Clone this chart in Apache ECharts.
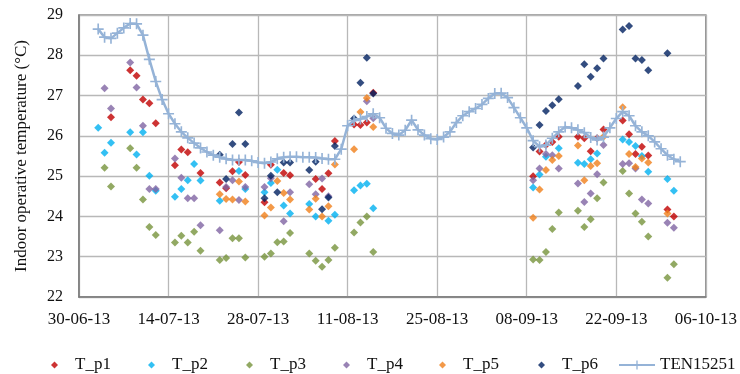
<!DOCTYPE html>
<html><head><meta charset="utf-8">
<script src="https://cdn.jsdelivr.net/npm/echarts@6/dist/echarts.min.js"></script>
<style>html,body{margin:0;padding:0;background:#fff}#c{width:740px;height:374px}</style>
</head><body><div id="c"></div>
<script>
// ---- data (year 2013, dates as MM-DD) ----
const measureDates = ['07-03','07-04','07-05','07-08','07-09','07-10','07-11','07-12','07-15','07-16','07-17','07-18','07-19',
  '07-22','07-23','07-24','07-25','07-26','07-29','07-30','07-31','08-01','08-02','08-05','08-06','08-07','08-08','08-09',
  '08-12','08-13','08-14','08-15','09-09','09-10','09-11','09-12','09-13','09-16','09-17','09-18','09-19','09-20',
  '09-23','09-24','09-25','09-26','09-27','09-30','10-01'];
const T_p1 = [null,null,26.46,27.63,27.49,26.90,26.81,26.31,25.27,25.66,25.59,null,25.08,
  24.84,24.70,25.12,25.35,25.03,24.35,25.28,null,25.08,25.02,null,24.93,24.68,25.07,25.87,
  26.28,26.27,26.33,27.07,25.00,25.61,25.77,25.85,25.98,25.98,25.94,25.62,25.94,26.16,
  26.38,26.04,25.55,25.73,25.51,24.17,24.00];
const T_p2 = [26.20,25.58,25.83,26.09,25.54,26.09,25.01,24.64,24.49,24.68,24.90,25.30,24.89,
  24.39,null,null,25.13,24.68,24.60,24.83,25.16,24.27,24.07,24.31,24.00,null,23.89,24.04,
  24.65,24.77,24.81,24.20,24.72,25.04,25.48,null,25.69,25.33,25.30,25.42,25.56,null,
  25.91,25.85,25.75,25.50,25.11,24.93,24.64];
const T_p3 = [null,25.21,24.74,25.69,25.21,24.42,23.74,23.54,23.35,23.52,23.35,23.62,23.15,
  22.92,22.97,23.46,23.46,22.98,23.00,23.08,23.36,23.38,23.59,23.08,22.90,22.75,22.92,23.22,
  23.60,23.85,24.00,23.12,22.93,22.92,23.12,23.69,24.10,24.14,23.74,23.93,24.45,24.84,
  25.13,24.57,24.07,23.87,23.50,22.48,22.81];
const T_p4 = [null,27.18,26.68,27.82,27.20,26.25,24.68,24.68,25.44,24.96,24.45,24.45,23.78,
  23.66,24.73,24.90,24.41,24.73,24.73,24.95,null,23.88,24.60,24.80,24.55,24.94,24.50,null,
  null,null,26.86,26.44,24.90,25.19,25.55,25.52,25.19,24.82,24.36,24.57,25.05,25.77,
  25.30,25.32,25.19,24.42,24.32,23.84,23.72];
const T_p5 = [null,null,null,null,null,null,null,null,null,null,null,null,null,
  24.55,24.43,24.42,24.87,24.37,24.02,24.22,24.88,24.58,24.42,24.17,24.44,24.00,24.25,25.29,
  25.67,26.59,26.94,26.22,23.97,24.67,25.15,25.40,25.50,25.76,24.90,25.25,25.32,25.98,
  26.71,25.55,25.23,25.44,25.34,24.07,null];
const T_p6 = [null,null,null,null,null,null,null,null,null,null,null,null,null,
  25.53,24.93,25.80,26.58,25.80,24.45,25.01,24.60,25.34,25.34,25.15,25.36,24.18,24.47,25.75,
  26.43,27.32,27.94,27.05,25.71,26.27,26.62,26.76,26.91,27.24,27.78,27.47,27.68,27.92,
  28.64,28.73,27.92,27.88,27.63,28.05,null];
const lineDates = ['07-03','07-04','07-05','07-06','07-07','07-08','07-09','07-10','07-11','07-12','07-13','07-14','07-15','07-16','07-17','07-18','07-19','07-20','07-21','07-22','07-23','07-24','07-25','07-26','07-27','07-28','07-29','07-30','07-31',
  '08-01','08-02','08-03','08-04','08-05','08-06','08-07','08-08','08-09','08-10','08-11','08-12','08-13','08-14','08-15','08-16','08-17','08-18','08-19','08-20','08-21','08-22','08-23','08-24','08-25','08-26','08-27','08-28','08-29','08-30','08-31',
  '09-01','09-02','09-03','09-04','09-05','09-06','09-07','09-08','09-09','09-10','09-11','09-12','09-13','09-14','09-15','09-16','09-17','09-18','09-19','09-20','09-21','09-22','09-23','09-24','09-25','09-26','09-27','09-28','09-29','09-30',
  '10-01','10-02'];
const TEN15251 = [28.65,28.45,28.42,28.55,28.68,28.79,28.78,28.50,27.90,27.35,26.90,26.55,26.30,26.10,25.95,25.82,25.70,25.60,25.52,25.47,25.43,25.40,25.40,25.40,25.38,25.34,25.32,25.35,25.43,
  25.47,25.48,25.48,25.47,25.47,25.46,25.44,25.42,25.42,25.67,26.25,26.38,26.42,26.48,26.55,26.45,26.19,26.06,26.02,26.14,26.39,26.15,26.02,25.93,25.91,25.97,26.10,26.33,26.50,26.60,26.68,
  26.78,26.93,27.05,27.06,26.95,26.70,26.45,26.20,25.88,25.73,25.77,25.94,26.10,26.22,26.20,26.15,26.08,25.96,25.90,25.97,26.20,26.43,26.60,26.50,26.25,26.10,26.00,25.85,25.68,25.52,
  25.42,25.36];
const seriesNames = ['T_p1','T_p2','T_p3','T_p4','T_p5','T_p6','TEN15251'];
const xStart = '2013-06-30', xEnd = '2013-10-06', xStepDays = 14;
const yMin = 22, yMax = 29, yStep = 1;

// ---- helpers ----
const DAY = 86400000;
const t0 = Date.parse(xStart + 'T00:00:00Z');
const dayOf = mmdd => (Date.parse('2013-' + mmdd + 'T00:00:00Z') - t0) / DAY;
const fmt = v => { const d = new Date(t0 + v * DAY); const p = n => String(n).padStart(2, '0');
  return p(d.getUTCDate()) + '-' + p(d.getUTCMonth() + 1) + '-' + String(d.getUTCFullYear()).slice(2); };
const pairs = (dates, vals) => dates.map((m, i) => [dayOf(m), vals[i]]).filter(p => p[1] != null);

const colors = ['#C00000','#00B0F0','#77933C','#8064A2','#F07F1A','#002060','#95B3D7'];
const FONT = '"Liberation Serif","Times New Roman",serif';
const plus = 'path://M4.25,0H5.75V4.25H10V5.75H5.75V10H4.25V5.75H0V4.25H4.25Z';
const scatterData = [T_p1, T_p2, T_p3, T_p4, T_p5, T_p6];

const series = scatterData.map((vals, i) => ({
  name: seriesNames[i], type: 'scatter', symbol: 'diamond', symbolSize: 8,
  itemStyle: { color: colors[i] }, data: pairs(measureDates, vals), z: 2
}));
series.push({
  name: 'TEN15251', type: 'line', data: pairs(lineDates, TEN15251), symbol: plus, symbolSize: 11,
  showSymbol: true, lineStyle: { color: colors[6], width: 2.5 }, itemStyle: { color: colors[6] }, z: 3
});

const legendLeft = [46, 143, 241, 338, 434, 533, 613];
const legends = seriesNames.map((n, i) => ({
  data: [n], left: legendLeft[i], top: 351,
  itemWidth: i < 6 ? 7 : 36, itemHeight: i < 6 ? 7 : 11, selectedMode: false,
  textStyle: { fontFamily: FONT, fontSize: 17, lineHeight: 18, color: '#111', padding: i < 6 ? [0, 0, 0, 12] : [0, 0, 0, 0] }
}));

const chart = echarts.init(document.getElementById('c'), null, { renderer: 'canvas' });
chart.setOption({
  animation: false,
  backgroundColor: '#fff',
  color: colors,
  grid: { left: 79, right: 33, top: 15, bottom: 77, show: true, borderColor: '#8a8a8a', borderWidth: 1.5 },
  legend: legends,
  xAxis: {
    type: 'value', min: dayOf(xStart.slice(5)), max: dayOf(xEnd.slice(5)), interval: xStepDays,
    axisLine: { show: true, lineStyle: { color: '#7a7a7a', width: 1.5 } }, axisTick: { show: false },
    axisLabel: { formatter: fmt, fontFamily: FONT, fontSize: 17, color: '#111', margin: 14 },
    splitLine: { show: true, lineStyle: { color: '#b8b8b8', width: 1.3 } }
  },
  yAxis: {
    type: 'value', min: yMin, max: yMax, interval: yStep,
    name: 'Indoor operative temperature (\u00B0C)', nameLocation: 'middle', nameGap: 49,
    nameTextStyle: { fontFamily: FONT, fontSize: 17, color: '#111' },
    axisLine: { show: true, lineStyle: { color: '#7a7a7a', width: 1.5 } }, axisTick: { show: false },
    axisLabel: { fontFamily: FONT, fontSize: 16, color: '#111', margin: 16 },
    splitLine: { show: true, lineStyle: { color: '#b8b8b8', width: 1.3 } }
  },
  series: series
});
</script></body></html>
